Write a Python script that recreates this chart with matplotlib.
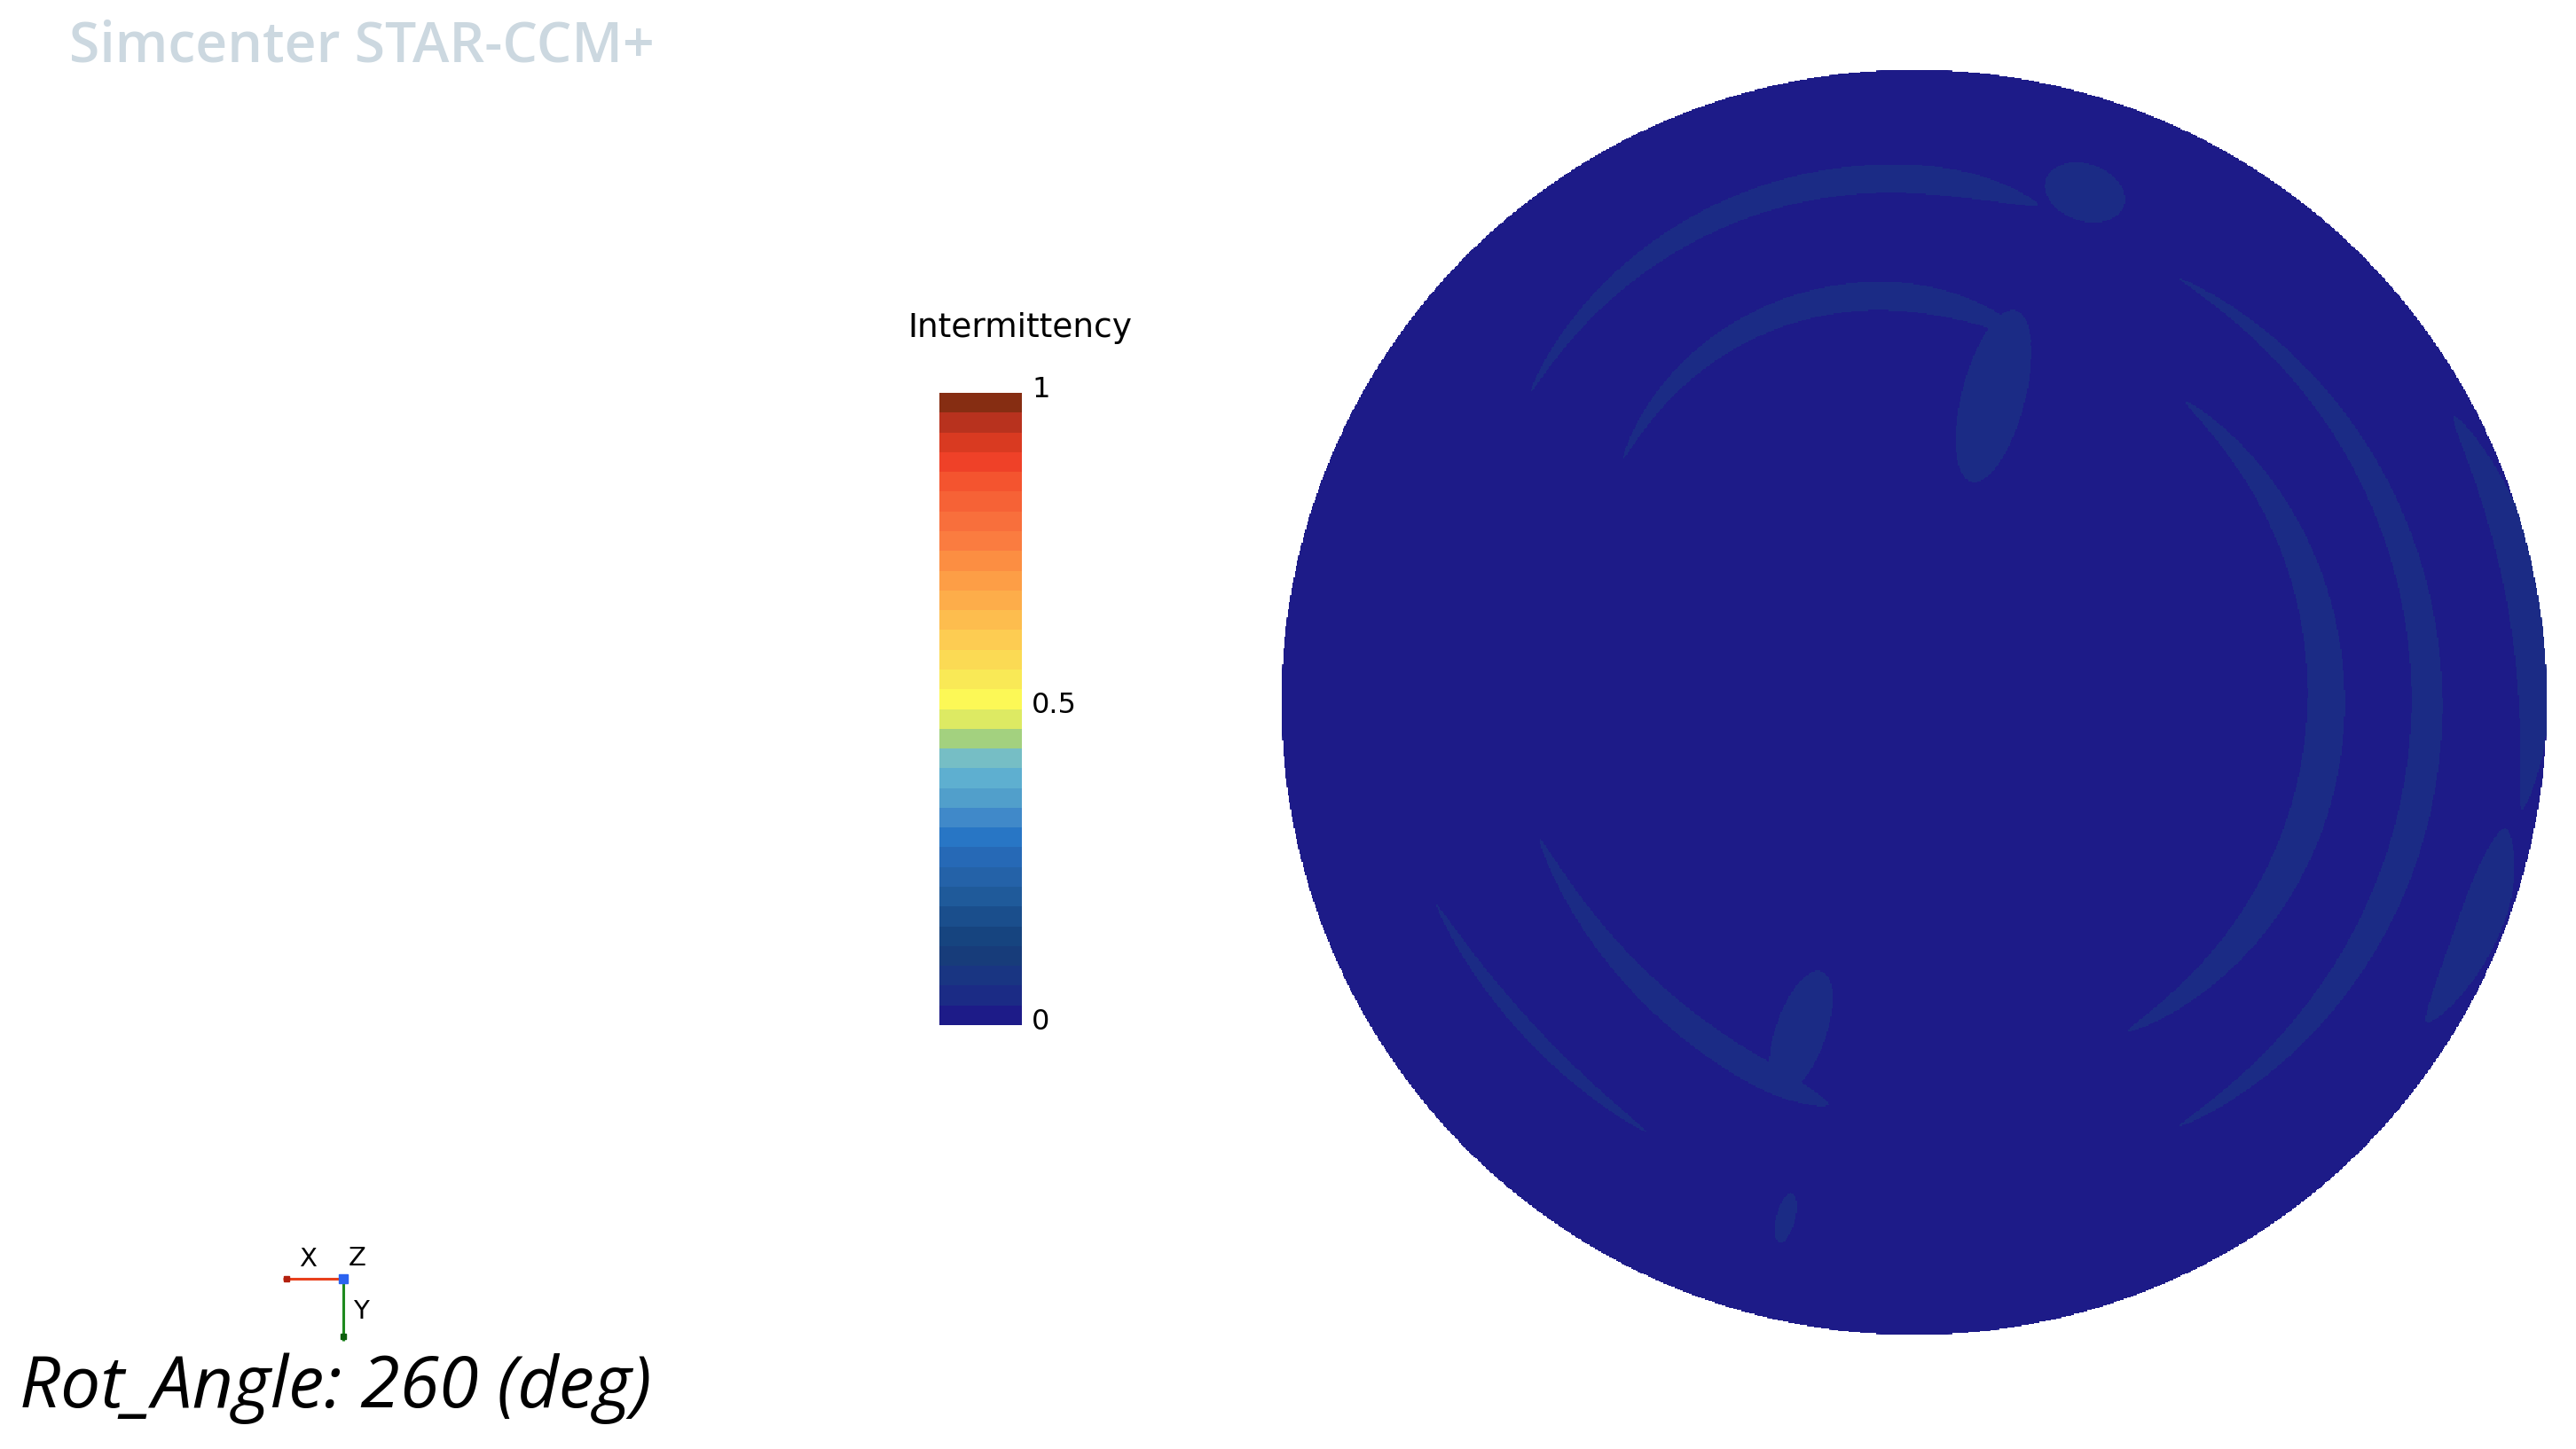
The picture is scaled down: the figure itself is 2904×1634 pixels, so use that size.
import numpy as np
import matplotlib
matplotlib.use('Agg')
import matplotlib.pyplot as plt
from matplotlib import font_manager
from matplotlib.colors import ListedColormap, BoundaryNorm
from matplotlib.patches import Circle
from matplotlib.transforms import ScaledTranslation

# colour bands of the Intermittency legend, from 0 (bottom) to 1 (top)
band_colors = ['#1D1B88', '#1B2B85', '#193582', '#173C7A', '#16447F', '#1A4E8C',
               '#1F5A9A', '#2462A8', '#2669B6', '#2876C5', '#4089C9', '#519FCB',
               '#5EAFD0', '#76BEC5', '#A3D17F', '#DDEA63', '#FCF856', '#F9E956',
               '#FBDA54', '#FDCC52', '#FDBD4E', '#FDAD4A', '#FD9E46', '#FC8E42',
               '#FA7C40', '#F86F3C', '#F66236', '#F4542F', '#EF4128', '#D93A21',
               '#B8321E', '#862D12']
cbar_ticks = [0, 0.5, 1]
cbar_ticklabels = ['0', '0.5', '1']
field_name = 'Intermittency'
rot_angle = 260

# streaks of slightly raised intermittency on the disk (unit radius, angle in deg)
arc_t0 = [141, 140, 58, 48, 28, -12, 200, 203]
arc_t1 = [76, 72, -58, -57, -10, -32, 258, 238]
arc_r0 = [0.78, 0.60, 0.79, 0.64, 0.965, 0.955, 0.63, 0.82]
arc_rm = [0.83, 0.65, 0.81, 0.65, 0.98, 0.96, 0.62, 0.80]
arc_r1 = [0.81, 0.60, 0.79, 0.62, 0.975, 0.955, 0.65, 0.80]
arc_w = [0.045, 0.045, 0.05, 0.06, 0.06, 0.07, 0.045, 0.024]
arc_peak = [0.8, 0.7, 0.6, 0.55, 0.5, 0.4, 0.8, 0.5]
arc_val = [0.045, 0.045, 0.045, 0.045, 0.045, 0.045, 0.045, 0.045]

blob_t = [71.5, 75.5, 251, 256]
blob_r = [0.85, 0.50, 0.55, 0.84]
blob_len = [0.09, 0.28, 0.20, 0.08]
blob_wid = [0.13, 0.10, 0.08, 0.03]
blob_val = [0.045, 0.045, 0.045, 0.045]

W, H = 2904, 1634
fig = plt.figure(figsize=(W / 100, H / 100), dpi=100)
fig.patch.set_facecolor('white')

names = {f.name for f in font_manager.fontManager.ttflist}
narrow = 'Liberation Sans Narrow' if 'Liberation Sans Narrow' in names else 'Open Sans'
foot_size = 62 if narrow == 'Liberation Sans Narrow' else 58

# ---- field on the disk
N = 1100
xs = np.linspace(-1, 1, N)
X, Y = np.meshgrid(xs, xs)
R = np.hypot(X, Y)
T = np.degrees(np.arctan2(Y, X))
field = np.zeros_like(R)

for t0, t1, r0, rm, r1, w, p, v in zip(arc_t0, arc_t1, arc_r0, arc_rm, arc_r1,
                                         arc_w, arc_peak, arc_val):
    span = t1 - t0
    d = ((T - t0) * np.sign(span)) % 360
    s = d / abs(span)
    ok = s <= 1
    s = np.clip(s, 0, 1)
    rc = r0 * 2 * (s - 0.5) * (s - 1) - rm * 4 * s * (s - 1) + r1 * 2 * s * (s - 0.5)
    prof = np.where(s < p, np.sin(np.pi / 2 * s / p), np.sin(np.pi / 2 * (1 - s) / (1 - p)))
    ww = w * np.clip(prof, 0, 1) ** 0.6
    field[ok & (np.abs(R - rc) < ww / 2)] = v

for t, r, ln, wd, v in zip(blob_t, blob_r, blob_len, blob_wid, blob_val):
    a = np.radians(t)
    cx, cy = r * np.cos(a), r * np.sin(a)
    du = (X - cx) * np.cos(a) + (Y - cy) * np.sin(a)
    dv = -(X - cx) * np.sin(a) + (Y - cy) * np.cos(a)
    field[(du / (ln / 2)) ** 2 + (dv / (wd / 2)) ** 2 < 1] = v

field[R > 1] = np.nan

cmap = ListedColormap(band_colors)
norm = BoundaryNorm(np.linspace(0, 1, len(band_colors) + 1), len(band_colors))

# disk: centre (2158, 792) px, radius 714 px
cxp, cyp, rp = 2158, 792, 714
ax = fig.add_axes([(cxp - rp) / W, (H - cyp - rp) / H, 2 * rp / W, 2 * rp / H])
im = ax.imshow(field, extent=[-1, 1, -1, 1], origin='lower', cmap=cmap, norm=norm,
               interpolation='nearest')
im.set_clip_path(Circle((0, 0), 1, transform=ax.transData))
ax.set_xlim(-1, 1)
ax.set_ylim(-1, 1)
ax.set_aspect('equal')
ax.axis('off')

# ---- colour bar
cax = fig.add_axes([1059 / W, (H - 1156) / H, 93 / W, 713 / H])
cb = fig.colorbar(im, cax=cax, ticks=cbar_ticks)
cb.ax.minorticks_off()
cb.ax.set_yticklabels(cbar_ticklabels, fontsize=23, family='DejaVu Sans')
cb.ax.tick_params(which='both', length=0, pad=8)
cb.outline.set_visible(False)
shift = ScaledTranslation(0, 0.07, fig.dpi_scale_trans)
for lab in cb.ax.get_yticklabels():
    lab.set_transform(lab.get_transform() + shift)
fig.text(1150 / W, 1 - 370 / H, field_name, ha='center', va='center',
         fontsize=27, family='DejaVu Sans', color='black')

# ---- header and footer texts
fig.text(78 / W, 1 - 70 / H, 'Simcenter STAR-CCM+', ha='left', va='baseline',
         fontsize=45, family='Open Sans', weight='semibold', color='#CCD8E0')
fig.text(22 / W, 1 - 1587 / H, 'Rot_Angle: %d (deg)' % rot_angle, ha='left',
         va='baseline', fontsize=foot_size, family=narrow, style='italic', color='black')

# ---- axis triad
tax = fig.add_axes([0, 0, 1, 1])
tax.set_xlim(0, W)
tax.set_ylim(H, 0)
tax.axis('off')
ox, oy = 387, 1442
tax.plot([ox, ox - 68], [oy, oy], color='#E8401C', lw=2.2, solid_capstyle='butt')
tax.plot([ox - 64], [oy], marker='s', ms=5, color='#B3200E')
tax.plot([ox, ox], [oy, oy + 70], color='#1E8A1E', lw=2.2, solid_capstyle='butt')
tax.plot([ox], [oy + 65], marker='s', ms=5, color='#0E5E0E')
tax.plot([ox], [oy], marker='s', ms=7, color='#2B63F0')
tax.text(ox - 40, oy - 22, 'X', ha='center', va='center', fontsize=21, color='black')
tax.text(ox + 16, oy - 23, 'Z', ha='center', va='center', fontsize=21, color='black')
tax.text(ox + 20, oy + 37, 'Y', ha='center', va='center', fontsize=21, color='black')

fig.savefig('out.png', dpi=100, facecolor='white')
